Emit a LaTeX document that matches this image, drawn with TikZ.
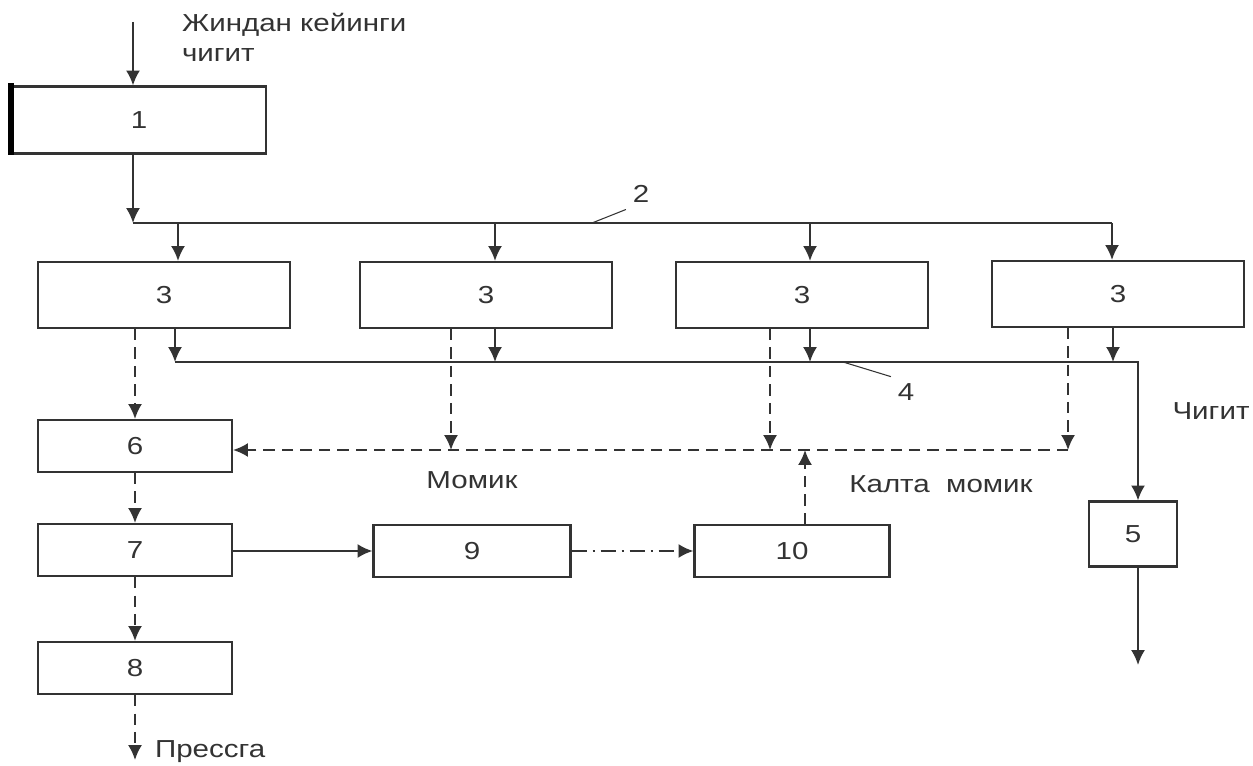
\documentclass[tikz,border=0pt]{standalone}
\usepackage{fontspec}
\setmainfont{Liberation Sans}[FakeStretch=1.2]
\usetikzlibrary{arrows.meta}

\begin{document}
\begin{tikzpicture}[x=0.02cm, y=-0.02cm,
		line width=1.2pt, draw=black!80, text=black!80,
		every node/.style={font=\fontsize{14}{17}\selectfont},
		box/.style={draw=black!80, line width=1.2pt, inner sep=0pt},
		flow/.style={-{Latex[length=8.5pt,width=8pt]}},
		dflow/.style={flow, dash pattern=on 6.5pt off 4pt},
		ddflow/.style={flow, dash pattern=on 9pt off 3pt on 1.5pt off 3pt}]
		\useasboundingbox (0,0) rectangle (1253,766);
		
		\node[box, minimum width=5.08cm, minimum height=1.34cm] (b1) at (139,120) {1};
		\draw[line width=3pt, black] ([yshift=1.5pt]b1.north west) -- (b1.south west);
		\node[box, minimum width=5.04cm, minimum height=1.32cm] (b3a) at (164,295) {3};
		\node[box, minimum width=5.04cm, minimum height=1.32cm] (b3b) at (486,295) {3};
		\node[box, minimum width=5.04cm, minimum height=1.32cm] (b3c) at (802,295) {3};
		\node[box, minimum width=5.04cm, minimum height=1.32cm] (b3d) at (1118,294) {3};
		\node[box, minimum width=3.88cm, minimum height=1.04cm] (b6) at (135,446) {6};
		\node[box, minimum width=3.88cm, minimum height=1.04cm] (b7) at (135,550) {7};
		\node[box, minimum width=3.88cm, minimum height=1.04cm] (b8) at (135,668) {8};
		\node[box, minimum width=3.94cm, minimum height=1.04cm] (b9) at (472,551) {9};
		\node[box, minimum width=3.90cm, minimum height=1.04cm] (b10) at (792,551) {10};
		\node[box, minimum width=1.76cm, minimum height=1.30cm] (b5) at (1133,534) {5};
		
		\node[anchor=north west, align=left, inner sep=0pt] (feed) at (181,12) {Жиндан кейинги\\чигит};
		\node (momik) at (472,480) {Момик};
		\node (kalta) at (941,484) {Калта\ \ момик};
		\node (chigit) at (1211,411) {Чигит};
		\node[anchor=west, inner sep=0pt] (press) at (154,752) {Прессга};
		\node (n2) at (641,194) {2};
		\node (n4) at (906,392) {4};
		
		% bus 2
		\coordinate (in) at (133,22);
		\coordinate (j1) at (133,223);
		\coordinate (j2) at (1112,223);
		\draw[flow] (in) -- (in |- b1.north);
		\draw[flow] (j1 |- b1.south) -- (j1);
		\draw (j1) -- (j2);
		\foreach \n/\x in {a/178, b/495, c/810, d/1112}{
			\coordinate (t\n) at (\x,223);
			\draw[flow] (t\n) -- (t\n |- b3\n.north);
		}
		\coordinate (l2) at (592,223);
		\draw[line width=0.6pt] (l2) -- (n2.south west);
		
		% bus 4
		\foreach \n/\x in {a/175, b/495, c/810, d/1113}{
			\coordinate (s\n) at (\x,362);
			\draw[flow] (s\n |- b3\n.south) -- (s\n);
		}
		\coordinate (k) at (1138,362);
		\coordinate (out5) at (1138,665);
		\draw[flow] (sa) -- (k) -- (k |- b5.north);
		\draw[flow] (out5 |- b5.south) -- (out5);
		\coordinate (l4) at (843,362);
		\draw[line width=0.6pt] (l4) -- (n4.north west);
		
		% lint
		\foreach \n/\x in {b/451, c/770, d/1068}{
			\coordinate (m\n) at (\x,450);
			\draw[dflow] (m\n |- b3\n.south) -- (m\n);
		}
		\coordinate (mk) at (805,450);
		\draw[dflow] (md) -- (md -| b6.east);
		\draw[dflow] (b10.north -| mk) -- (mk);
		\draw[dflow] (b3a.south -| b6.north) -- (b6.north);
		\draw[dflow] (b6) -- (b7);
		\draw[dflow] (b7) -- (b8);
		\coordinate (pr) at (135,760);
		\draw[dflow] (b8.south) -- (pr);
		
		\draw[flow] (b7.east |- b9.west) -- (b9.west);
		\draw[ddflow] (b9.east) -- (b10.west);
\end{tikzpicture}
\end{document}
